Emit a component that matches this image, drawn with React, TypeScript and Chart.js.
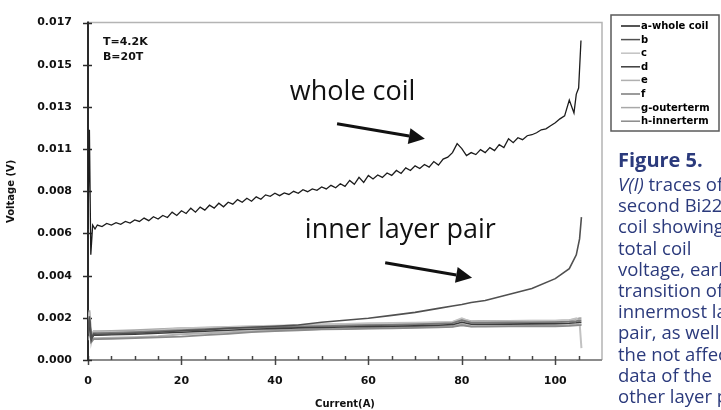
import React, { useEffect, useRef } from "react";
import { Chart, registerables } from "chart.js";

Chart.register(...registerables);

// ---------- data ----------
const seriesLabels = ["a-whole coil", "b", "c", "d", "e", "f", "g-outerterm", "h-innerterm"];

const yTickLabels = ["0.000", "0.002", "0.004", "0.006", "0.008", "0.011", "0.013", "0.015", "0.017"];
const xTickValues = [0, 20, 40, 60, 80, 100];

const wholeCurrent = [
  0, 0.3, 0.6, 1, 1.5,
  2, 3, 4, 5, 6, 7, 8, 9, 10, 11, 12, 13, 14, 15, 16, 17, 18, 19, 20, 21, 22, 23, 24, 25, 26, 27, 28, 29, 30,
  31, 32, 33, 34, 35, 36, 37, 38, 39, 40, 41, 42, 43, 44, 45, 46, 47, 48, 49, 50, 51, 52, 53, 54, 55, 56, 57, 58, 59, 60,
  61, 62, 63, 64, 65, 66, 67, 68, 69, 70, 71, 72, 73, 74, 75, 76, 77, 78, 79, 80, 81, 82, 83, 84, 85, 86, 87, 88, 89, 90,
  91, 92, 93, 94, 95, 96, 97, 98, 99, 100, 101, 102, 103, 104,
  104.5, 105, 105.5,
];
const wholeCoil = [
  0.0066, 0.0116, 0.0053, 0.0068, 0.0066,
  0.0068, 0.00672, 0.00688, 0.0068, 0.00692, 0.00684, 0.00698, 0.0069, 0.00706, 0.00698, 0.00715, 0.00702, 0.00722, 0.0071, 0.00728,
  0.00718, 0.00745, 0.00728, 0.00752, 0.00738, 0.00765, 0.00745, 0.0077, 0.00755, 0.0078, 0.00765, 0.0079, 0.00772, 0.00795,
  0.00785, 0.00808, 0.00795, 0.00815, 0.008, 0.00822, 0.0081, 0.00832, 0.00825, 0.0084, 0.00828, 0.00842, 0.00834, 0.0085, 0.0084,
  0.00858, 0.00848, 0.00862, 0.00855, 0.00872, 0.00862, 0.0088, 0.00868, 0.00888, 0.00875, 0.00905, 0.00885, 0.0092, 0.00895, 0.0093,
  0.00912, 0.00932, 0.0092, 0.00942, 0.0093, 0.00955, 0.0094, 0.00968, 0.00955, 0.00978, 0.00965, 0.00985, 0.00972, 0.01, 0.00982,
  0.01012, 0.01022, 0.01045, 0.0109, 0.01065, 0.0103, 0.01045, 0.01035, 0.0106, 0.01045, 0.0107, 0.01055, 0.01085, 0.0107, 0.01115,
  0.01095, 0.0112, 0.0111, 0.0113, 0.01135, 0.01145, 0.0116, 0.01165, 0.0118, 0.01195, 0.01215, 0.0123, 0.0131, 0.01245,
  0.0134, 0.0137, 0.0161,
];

const layerCurrent = [
  0, 0.3, 0.7, 1.2, 2, 5, 10, 15, 20, 25, 30, 35, 40, 45, 50, 55, 60, 65, 70, 75, 78, 80, 82, 85, 90, 95, 100, 103, 104.5, 105.2, 105.6,
];
const seriesB = [
  0.0013, 0.0022, 0.001, 0.0013, 0.00128, 0.0013, 0.00135, 0.0014, 0.00147, 0.00152, 0.0016, 0.00165, 0.0017, 0.00176, 0.0019, 0.002,
  0.0021, 0.00225, 0.0024, 0.0026, 0.00272, 0.0028, 0.0029, 0.003, 0.0033, 0.0036, 0.0041, 0.0046, 0.0053, 0.0061, 0.0072,
];
const seriesC = [
  0.0014, 0.0024, 0.0009, 0.0014, 0.00138, 0.0014, 0.00142, 0.0015, 0.0016, 0.00162, 0.00166, 0.0017, 0.00172, 0.00176, 0.0018, 0.00182,
  0.00185, 0.00186, 0.00188, 0.0019, 0.00192, 0.0021, 0.00192, 0.00194, 0.00195, 0.00196, 0.00197, 0.002, 0.0021, 0.0019, 0.0006,
];
const seriesD = [
  0.0012, 0.002, 0.0011, 0.00125, 0.00125, 0.00128, 0.0013, 0.00135, 0.0014, 0.00145, 0.0015, 0.00155, 0.00158, 0.00162, 0.00164, 0.00166,
  0.00168, 0.0017, 0.00172, 0.00175, 0.00178, 0.0019, 0.0018, 0.0018, 0.00181, 0.00182, 0.00183, 0.00185, 0.00188, 0.0019, 0.0019,
];
const seriesE = [
  0.0011, 0.0018, 0.001, 0.0011, 0.0011, 0.00112, 0.00115, 0.0012, 0.0013, 0.00135, 0.0014, 0.00145, 0.0015, 0.00153, 0.00156, 0.00158,
  0.0016, 0.00162, 0.00165, 0.00167, 0.00169, 0.0018, 0.0017, 0.00172, 0.00173, 0.00174, 0.00175, 0.00176, 0.00178, 0.0018, 0.0018,
];
const seriesF = [
  0.0013, 0.0021, 0.0011, 0.00135, 0.00135, 0.00136, 0.0014, 0.00145, 0.0015, 0.00155, 0.0016, 0.00163, 0.00165, 0.00168, 0.00171, 0.00173,
  0.00175, 0.00177, 0.0018, 0.00183, 0.00186, 0.002, 0.00188, 0.00188, 0.0019, 0.0019, 0.00191, 0.00193, 0.00196, 0.002, 0.002,
];
const seriesG = [
  0.0015, 0.0025, 0.0012, 0.00145, 0.00145, 0.00146, 0.0015, 0.00155, 0.0016, 0.00163, 0.00166, 0.00168, 0.0017, 0.00174, 0.00177, 0.00179,
  0.0018, 0.00182, 0.00185, 0.00188, 0.0019, 0.00205, 0.00195, 0.00196, 0.00197, 0.00198, 0.00198, 0.002, 0.00205, 0.0021, 0.0021,
];
const seriesH = [
  0.001, 0.0016, 0.0009, 0.00105, 0.00105, 0.00106, 0.0011, 0.00114, 0.00118, 0.00125, 0.00132, 0.0014, 0.00145, 0.0015, 0.00154, 0.00156,
  0.00158, 0.0016, 0.00162, 0.00165, 0.00167, 0.00175, 0.00168, 0.00168, 0.00169, 0.0017, 0.0017, 0.00172, 0.00174, 0.00176, 0.00176,
];

const X_MAX = 110;
const Y_MAX = 0.017;

const captionLines: [string, string][] = [
  ["V(I)", " traces of the"],
  ["", "second Bi2212"],
  ["", "coil showing the"],
  ["", "total coil"],
  ["", "voltage, early"],
  ["", "transition of the"],
  ["", "innermost layer"],
  ["", "pair, as well as"],
  ["", "the not affected"],
  ["", "data of the"],
  ["", "other layer pairs."],
];

// ---------- styles ----------
const STYLE = [
  { color: "#1c1c1c", width: 1.3, order: 0 },
  { color: "#505050", width: 1.6, order: 1 },
  { color: "#c2c2c2", width: 2, order: 3 },
  { color: "#3c3c3c", width: 1.6, order: 2 },
  { color: "#b0b0b0", width: 2, order: 3 },
  { color: "#7a7a7a", width: 1.8, order: 2 },
  { color: "#a8a8a8", width: 2, order: 3 },
  { color: "#8a8a8a", width: 1.8, order: 2 },
];

const toPoints = (xs: number[], ys: number[]) => ys.map((y, i) => ({ x: xs[i], y }));

const decoPlugin = {
  id: "deco",
  beforeDatasetsDraw(chart: any) {
    const { ctx, chartArea: a, scales } = chart;
    const xs = scales.x;
    const ys = scales.y;
    ctx.save();
    // frame top/right
    ctx.strokeStyle = "#b4b4b4";
    ctx.lineWidth = 1.5;
    ctx.beginPath();
    ctx.moveTo(a.left, a.top);
    ctx.lineTo(a.right, a.top);
    ctx.lineTo(a.right, a.bottom);
    ctx.stroke();
    // bottom axis
    ctx.strokeStyle = "#8c8c8c";
    ctx.lineWidth = 2;
    ctx.beginPath();
    ctx.moveTo(a.left, a.bottom);
    ctx.lineTo(a.right, a.bottom);
    ctx.stroke();
    // x minor + major ticks
    ctx.strokeStyle = "#444";
    ctx.lineWidth = 1.5;
    for (let v = 0; v <= 105; v += 5) {
      const px = Math.round(xs.getPixelForValue(v)) + 0.5;
      const major = v % 20 === 0;
      ctx.beginPath();
      ctx.moveTo(px, a.bottom - 4);
      ctx.lineTo(px, a.bottom + (major ? 5 : 0));
      ctx.stroke();
    }
    // left axis
    ctx.strokeStyle = "#2a2a2a";
    ctx.lineWidth = 2;
    ctx.beginPath();
    ctx.moveTo(a.left, a.top - 1);
    ctx.lineTo(a.left, a.bottom + 1);
    ctx.stroke();
    ctx.lineWidth = 1.5;
    for (const t of ys.ticks) {
      const py = Math.round(ys.getPixelForValue(t.value)) + 0.5;
      ctx.beginPath();
      ctx.moveTo(a.left - 5, py);
      ctx.lineTo(a.left + 4, py);
      ctx.stroke();
    }
    ctx.restore();
  },
  afterDraw(chart: any) {
    const { ctx, chartArea: a, scales } = chart;
    const xs = scales.x;
    const ys = scales.y;
    ctx.save();
    // T / B annotation
    ctx.fillStyle = "#111";
    ctx.font = "bold 11px 'DejaVu Sans'";
    ctx.textBaseline = "alphabetic";
    ctx.fillText("T=4.2K", xs.getPixelForValue(3.2), ys.getPixelForValue(0.01585));
    ctx.fillText("B=20T", xs.getPixelForValue(3.2), ys.getPixelForValue(0.0151));
    // big labels
    ctx.font = "27px 'Open Sans'";
    ctx.fillStyle = "#111";
    ctx.fillText("whole coil", xs.getPixelForValue(43.2), ys.getPixelForValue(0.0131));
    ctx.fillText("inner layer pair", xs.getPixelForValue(46.4), ys.getPixelForValue(0.00615));
    // arrows
    const arrow = (x1: number, y1: number, x2: number, y2: number) => {
      const p1x = xs.getPixelForValue(x1), p1y = ys.getPixelForValue(y1);
      const p2x = xs.getPixelForValue(x2), p2y = ys.getPixelForValue(y2);
      const ang = Math.atan2(p2y - p1y, p2x - p1x);
      const headLen = 16, headW = 8;
      const bx = p2x - headLen * Math.cos(ang), by = p2y - headLen * Math.sin(ang);
      ctx.strokeStyle = "#111";
      ctx.lineWidth = 3;
      ctx.beginPath();
      ctx.moveTo(p1x, p1y);
      ctx.lineTo(bx, by);
      ctx.stroke();
      ctx.fillStyle = "#111";
      ctx.beginPath();
      ctx.moveTo(p2x, p2y);
      ctx.lineTo(bx + headW * Math.sin(ang), by - headW * Math.cos(ang));
      ctx.lineTo(bx - headW * Math.sin(ang), by + headW * Math.cos(ang));
      ctx.closePath();
      ctx.fill();
    };
    arrow(53.3, 0.0119, 72.1, 0.01115);
    arrow(63.6, 0.0049, 82.2, 0.00415);

    // legend box
    const lx = a.right + 9;
    const ly = 15;
    const lw = 720 - lx - 1;
    const lh = 116;
    ctx.strokeStyle = "#5a5a5a";
    ctx.lineWidth = 1.5;
    ctx.strokeRect(lx, ly, lw, lh);
    ctx.font = "bold 10px 'DejaVu Sans'";
    ctx.textBaseline = "middle";
    chart.data.datasets.forEach((ds: any, i: number) => {
      const yy = ly + 11 + i * 13.6;
      ctx.strokeStyle = ds.borderColor;
      ctx.lineWidth = 1.5;
      ctx.beginPath();
      ctx.moveTo(lx + 10, yy);
      ctx.lineTo(lx + 29, yy);
      ctx.stroke();
      ctx.fillStyle = "#000";
      ctx.fillText(ds.label, lx + 30, yy + 0.5);
    });
    ctx.restore();
  },
};

export default function App() {
  const ref = useRef<HTMLCanvasElement>(null);
  useEffect(() => {
    if (!ref.current) return;
    const layerSeries = [seriesB, seriesC, seriesD, seriesE, seriesF, seriesG, seriesH];
    const datasets = [
      {
        label: seriesLabels[0],
        data: toPoints(wholeCurrent, wholeCoil),
        borderColor: STYLE[0].color,
        borderWidth: STYLE[0].width,
        order: STYLE[0].order,
        pointRadius: 0,
        tension: 0,
      },
      ...layerSeries.map((s, i) => ({
        label: seriesLabels[i + 1],
        data: toPoints(layerCurrent, s),
        borderColor: STYLE[i + 1].color,
        borderWidth: STYLE[i + 1].width,
        order: STYLE[i + 1].order,
        pointRadius: 0,
        tension: 0,
      })),
    ];
    const chart = new Chart(ref.current, {
      type: "line",
      data: { datasets },
      plugins: [decoPlugin],
      options: {
        animation: false,
        responsive: false,
        devicePixelRatio: 1,
        layout: { padding: { left: 0, right: 119, top: 20, bottom: 0 } },
        plugins: { legend: { display: false }, tooltip: { enabled: false } },
        scales: {
          x: {
            type: "linear",
            min: 0,
            max: X_MAX,
            afterBuildTicks: (scale: any) => {
              scale.ticks = xTickValues.map((v) => ({ value: v }));
            },
            afterFit: (scale: any) => {
              scale.height = 50;
            },
            grid: { display: false, drawTicks: false },
            border: { display: false },
            ticks: {
              padding: 15,
              maxRotation: 0,
              color: "#111",
              font: { family: "'DejaVu Sans'", weight: "bold", size: 11 },
              callback: (v: any) => String(v),
            },
            title: {
              display: true,
              text: "Current(A)",
              color: "#111",
              font: { family: "'DejaVu Sans'", weight: "bold", size: 10 },
              padding: { top: 0, bottom: 0 },
            },
          },
          y: {
            type: "linear",
            min: 0,
            max: Y_MAX,
            afterBuildTicks: (scale: any) => {
              scale.ticks = yTickLabels.map((_, i) => ({ value: (i * Y_MAX) / (yTickLabels.length - 1) }));
            },
            afterFit: (scale: any) => {
              scale.width = 88;
            },
            grid: { display: false, drawTicks: false },
            border: { display: false },
            ticks: {
              padding: 16,
              color: "#111",
              font: { family: "'DejaVu Sans'", weight: "bold", size: 11 },
              callback: (_v: any, i: number) => yTickLabels[i],
            },
            title: {
              display: true,
              text: "Voltage (V)",
              color: "#111",
              font: { family: "'DejaVu Sans'", weight: "bold", size: 10 },
              padding: { top: 5, bottom: 0 },
            },
          },
        },
      },
    } as any);
    return () => chart.destroy();
  }, []);

  const capColor = "#2b3a7c";
  return (
    <div
      style={{
        position: "absolute",
        left: 0,
        top: 0,
        width: 721,
        height: 410,
        overflow: "hidden",
        background: "#fff",
      }}
    >
      <canvas ref={ref} width={721} height={410} style={{ position: "absolute", left: 0, top: 0, width: 721, height: 410 }} />
      <div
        style={{
          position: "absolute",
          left: 618,
          top: 148,
          fontFamily: "'Open Sans', sans-serif",
          fontWeight: 700,
          fontSize: 20,
          lineHeight: "24px",
          color: capColor,
          whiteSpace: "nowrap",
        }}
      >
        Figure 5.
      </div>
      <div
        style={{
          position: "absolute",
          left: 618,
          top: 173,
          fontFamily: "'Open Sans', sans-serif",
          fontSize: 18.5,
          lineHeight: "21.2px",
          color: capColor,
          whiteSpace: "nowrap",
        }}
      >
        {captionLines.map(([it, rest], i) => (
          <div key={i}>
            {it ? <i>{it}</i> : null}
            {rest}
          </div>
        ))}
      </div>
    </div>
  );
}
